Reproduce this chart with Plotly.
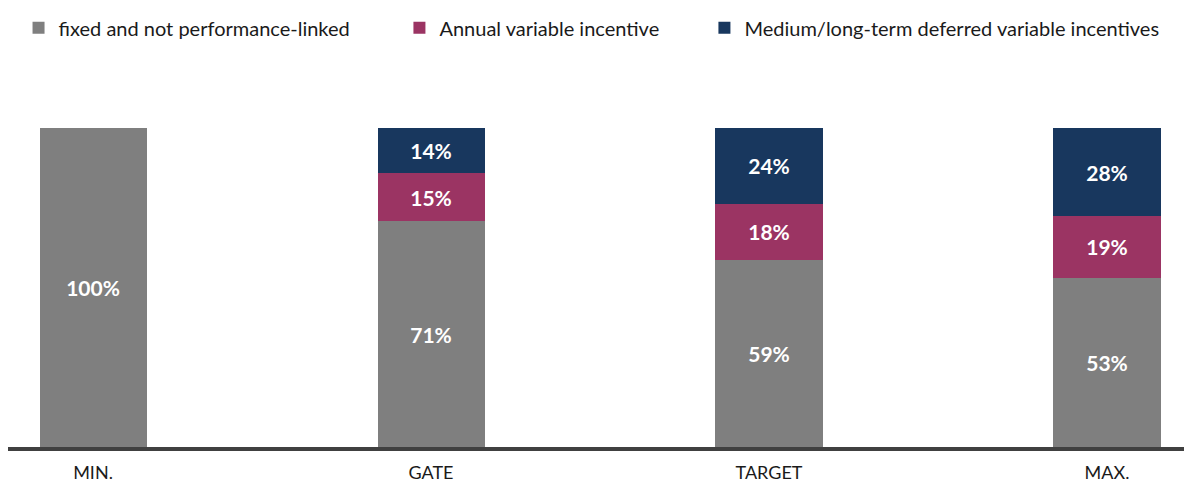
import plotly.graph_objects as go

categories = ["MIN.", "GATE", "TARGET", "MAX."]
fixed = [100, 70.8, 58.6, 53.0]
annual = [None, 15.1, 17.6, 19.4]
deferred = [None, 14.1, 23.8, 27.6]

names = ["fixed and not performance-linked", "Annual variable incentive",
         "Medium/long-term deferred variable incentives"]
colors = ["#7F7F7F", "#9B3463", "#18375E"]
series = [fixed, annual, deferred]

FONT = "Lato, 'Open Sans', sans-serif"
xpos = list(range(len(categories)))

fig = go.Figure()
legends = ["legend", "legend2", "legend3"]
for vals, name, col, lg in zip(series, names, colors, legends):
    fig.add_trace(go.Bar(
        x=xpos, y=vals, name=name, marker=dict(color=col, line=dict(width=0)),
        width=0.3166, showlegend=True,
        texttemplate="<b>%{y:.0f}%</b>", textposition="inside",
        insidetextanchor="middle", textangle=0, constraintext="none",
        textfont=dict(color="white", size=21, family=FONT),
        legend=lg, hoverinfo="skip",
    ))

leg_common = dict(orientation="h", yref="container", y=0.959, yanchor="middle",
                  xanchor="left", font=dict(size=20, color="#1a1a1a"),
                  itemclick=False, bgcolor="rgba(0,0,0,0)")
fig.update_layout(
    barmode="stack",
    width=1192, height=483,
    margin=dict(l=0, r=8, t=120, b=44),
    paper_bgcolor="white", plot_bgcolor="white",
    font=dict(family=FONT, size=18, color="#1a1a1a"),
    showlegend=True,
    legend=dict(x=0.0089, **leg_common),
    legend2=dict(x=0.3306, **leg_common),
    legend3=dict(x=0.5882, **leg_common),
)
fig.update_xaxes(
    range=[-0.2515, 3.2515], tickvals=xpos, ticktext=categories,
    showline=True, linecolor="#404040", linewidth=4, ticks="",
    ticklabelstandoff=6,
    showgrid=False, zeroline=False, tickfont=dict(size=18, color="#1a1a1a"),
)
fig.update_yaxes(range=[0, 100], visible=False, showgrid=False, zeroline=False)

fig.write_html("out.html")
